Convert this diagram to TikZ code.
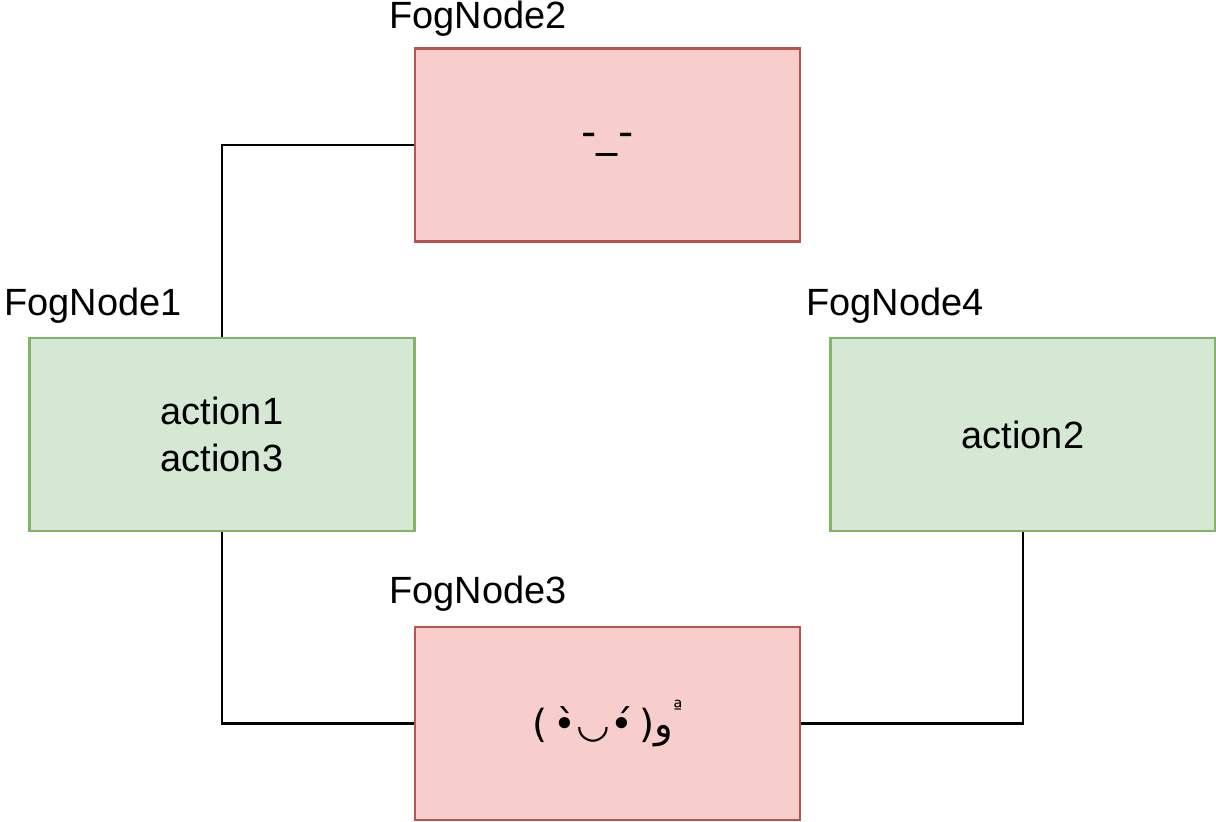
\documentclass[tikz,border=0pt]{standalone}
\usepackage{fontspec}
\setmainfont{Liberation Sans}
\newfontfamily\emofont{DejaVu Sans}
\definecolor{redfill}{HTML}{F8CECC}
\definecolor{redline}{HTML}{B85450}
\definecolor{greenfill}{HTML}{D5E8D4}
\definecolor{greenline}{HTML}{82B366}
\begin{document}
\begin{tikzpicture}[x=0.02cm,y=-0.02cm,
  box/.style={draw, line width=1.2pt, minimum width=7.7cm, minimum height=3.86cm, inner sep=0pt, align=center,
    font=\fontsize{21.6pt}{27pt}\selectfont},
  redbox/.style={box, fill=redfill, draw=redline},
  greenbox/.style={box, fill=greenfill, draw=greenline},
  title/.style={anchor=south west, inner sep=0pt, font=\fontsize{21.6pt}{26pt}\selectfont},
  link/.style={draw, line width=1.3pt}]
\useasboundingbox (0,0) rectangle (1216,821);
\node[redbox] (n2) at (607.5,145) {};
\node[greenbox] (n1) at (222,434.5) {action1\\action3};
\node[greenbox] (n4) at (1023,434.5) {action2};
\node[redbox] (n3) at (607.5,723.5) {};
\node[font=\emofont\fontsize{24pt}{28pt}\selectfont] (f2) at (n2.center) {-\_-};
\node[font=\emofont\fontsize{22pt}{28pt}\selectfont] (f3) at (n3.center)
  {\hbox{(}\hbox{\,•̀}\hbox{◡}\hbox{•́\,}\hbox{)}\hbox{و}\raisebox{1.1ex}{\fontsize{11pt}{12pt}\selectfont\hbox{ª}}};
\node[title] (t2) at (389,37) {FogNode2};
\node[title] (t1) at (4,324) {FogNode1};
\node[title] (t4) at (806,324) {FogNode4};
\node[title] (t3) at (389,612) {FogNode3};
\draw[link] (n2.west) -| (n1.north);
\draw[link] (n1.south) |- (n3.west);
\draw[link] (n3.east) -| (n4.south);
\end{tikzpicture}
\end{document}
